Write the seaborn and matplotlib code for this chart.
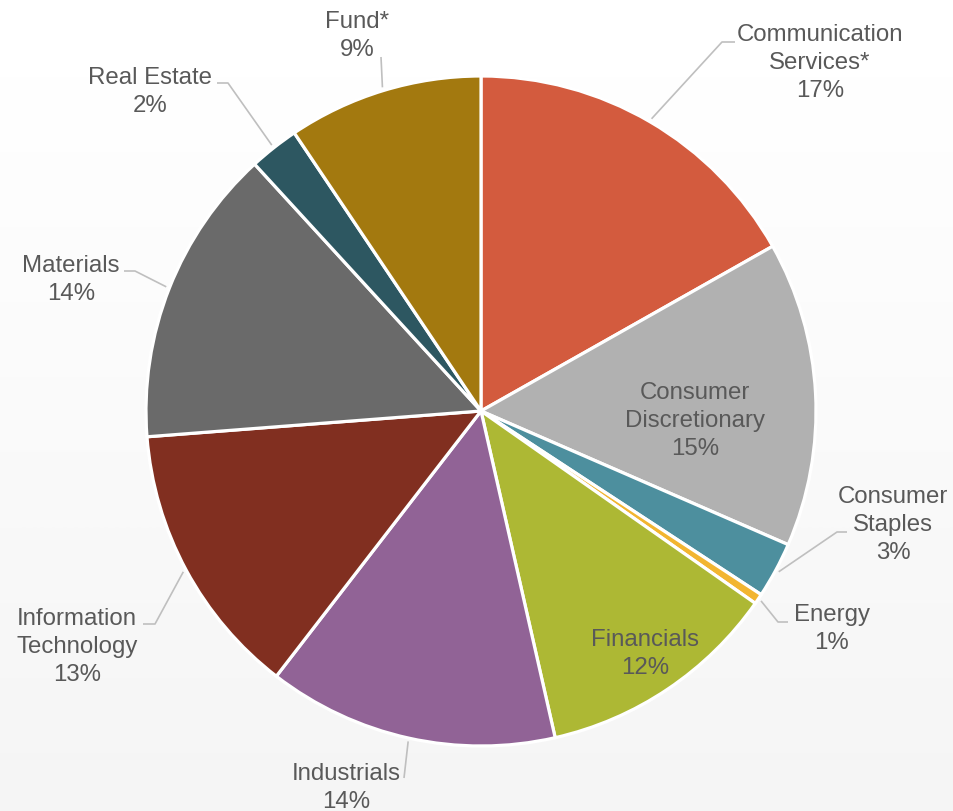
import numpy as np
import matplotlib
matplotlib.use("Agg")
import matplotlib.pyplot as plt
import seaborn as sns

# Sector weights (percent of portfolio), clockwise from 12 o'clock
sectors = [
    "Communication\nServices*",
    "Consumer\nDiscretionary",
    "Consumer\nStaples",
    "Energy",
    "Financials",
    "Industrials",
    "Information\nTechnology",
    "Materials",
    "Real Estate",
    "Fund*",
]
weights = [16.8, 14.7, 2.7, 0.5, 11.7, 14.0, 13.3, 14.4, 2.4, 9.4]
colors = ["#D35B3E", "#B1B1B1", "#4D8F9E", "#F2B530", "#ADB834",
          "#916396", "#812F20", "#6A6A6A", "#2D5761", "#A3790F"]

sns.set_style("white")
plt.rcParams["font.family"] = ["Liberation Sans", "DejaVu Sans"]

W, H = 954, 811
CX, CY, R = 481, 411, 335  # pie centre and radius in pixels


def px(x, y):
    """Pixel position (from top-left) to data units of the pie axes."""
    return (x - CX) / R, (CY - y) / R


fig = plt.figure(figsize=(W / 100, H / 100), dpi=100)
ax = fig.add_axes([0, 0, 1, 1])
x0, y1 = px(0, 0)
x1, y0 = px(W, H)

# soft vertical background gradient
grad = np.linspace(1.0, 0.958, 256).reshape(-1, 1)
ax.imshow(grad, extent=(x0, x1, y0, y1), cmap="gray", vmin=0, vmax=1,
          aspect="auto", zorder=0, interpolation="bilinear")

wedges, _ = ax.pie(
    weights, colors=colors, startangle=90, counterclock=False,
    radius=1.0, center=(0, 0), frame=True,
    wedgeprops=dict(edgecolor="white", linewidth=2.3),
)
for w in wedges:
    w.set_zorder(2)
ax.set_xlim(x0, x1)
ax.set_ylim(y0, y1)
ax.set_aspect("equal")
ax.axis("off")

TEXT = "#595959"
LINE = "#BFBFBF"
FS = 17.3
LS = 1.34
DY = 2  # nudge text blocks down so glyphs sit on the optical centre


def pct(v):
    return f"{int(np.floor(v + 0.5))}%"


# Label layout: text centre, and leader elbow / end points (pixels)
outside = {
    "Communication\nServices*": dict(text=(820, 61), elbow=(722, 42), end=(735, 42)),
    "Consumer\nStaples": dict(text=(893, 523), elbow=(837, 532), end=(847, 532)),
    "Energy": dict(text=(832, 627), elbow=(778, 622), end=(788, 622)),
    "Industrials": dict(text=(346, 786), elbow=(404, 778), end=None),
    "Information\nTechnology": dict(text=(77, 645), elbow=(155, 624), end=(143, 624)),
    "Materials": dict(text=(71, 278), elbow=(135, 271), end=(124, 271)),
    "Real Estate": dict(text=(150, 90), elbow=(228, 83), end=(217, 83)),
    "Fund*": dict(text=(357, 34), elbow=(381, 57), end=None),
}
inside = {
    "Consumer\nDiscretionary": (695, 419),
    "Financials": (645, 652),
}

for w, name, v in zip(wedges, sectors, weights):
    mid = np.deg2rad((w.theta1 + w.theta2) / 2)
    label = f"{name}\n{pct(v)}"
    if name in inside:
        x, y = inside[name]
        tx, ty = px(x, y + DY)
        ax.text(tx, ty, label, ha="center", va="center", color=TEXT,
                fontsize=FS, linespacing=LS, zorder=4)
        continue
    spec = outside[name]
    start = (1.01 * np.cos(mid), 1.01 * np.sin(mid))
    pts = [start, px(*spec["elbow"])]
    if spec["end"] is not None:
        pts.append(px(*spec["end"]))
    xs, ys = zip(*pts)
    ax.plot(xs, ys, color=LINE, linewidth=1.2, zorder=3,
            solid_capstyle="butt")
    x, y = spec["text"]
    tx, ty = px(x, y + DY)
    ax.text(tx, ty, label, ha="center", va="center", color=TEXT,
            fontsize=FS, linespacing=LS, zorder=4)

fig.savefig("out.png", dpi=100)
